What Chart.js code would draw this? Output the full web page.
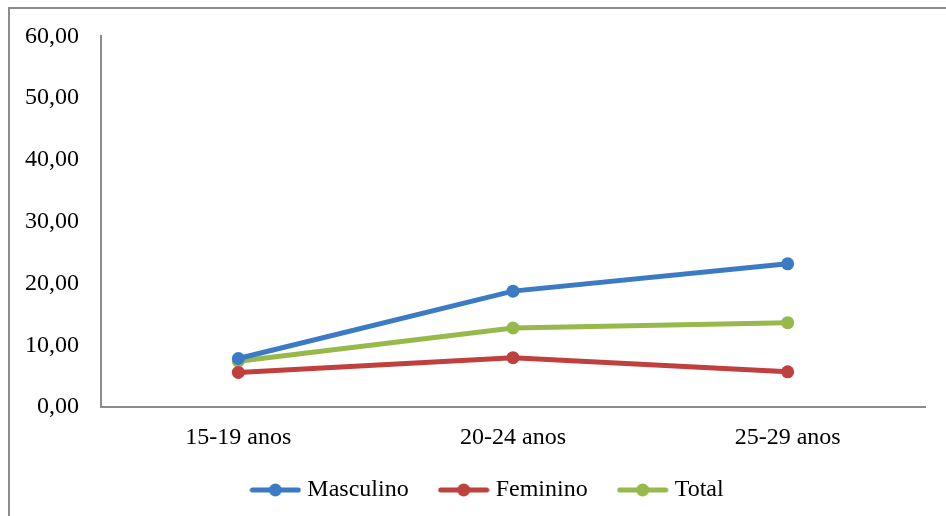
<!DOCTYPE html>
<html>
<head>
<meta charset="utf-8">
<script src="https://cdn.jsdelivr.net/npm/chart.js@4"></script>
<style>
    html, body { margin: 0; padding: 0; background: #fff; overflow: hidden; width: 946px; height: 516px; }
    .borda { position: absolute; background: #8c8c8c; }
    #bordaTopo { left: 8px; top: 7px; width: 938px; height: 2px; }
    #bordaEsq { left: 8px; top: 7px; width: 2px; height: 509px; }
    #wrap { position: absolute; left: 0; top: 0; width: 946px; height: 516px; }
</style>
</head>
<body>
<div class="borda" id="bordaTopo"></div>
<div class="borda" id="bordaEsq"></div>
<div id="wrap"><canvas id="faixaEtariaChart"></canvas></div>
<script>
const categorias = ['15-19 anos', '20-24 anos', '25-29 anos'];
const masculino = [7.85, 18.76, 23.18];
const feminino = [5.60, 7.98, 5.69];
const total = [7.42, 12.79, 13.66];
const yTicks = [0, 10, 20, 30, 40, 50, 60];

const azul = '#3b7bc3';
const vermelho = '#c0403d';
const verde = '#97b94c';

// icone da legenda: linha com bolinha no meio
function legendaIcone(cor) {
    const c = document.createElement('canvas');
    c.width = 52;
    c.height = 14;
    const g = c.getContext('2d');
    g.strokeStyle = cor;
    g.lineWidth = 5;
    g.lineCap = 'round';
    g.beginPath();
    g.moveTo(3, 7);
    g.lineTo(49, 7);
    g.stroke();
    g.fillStyle = cor;
    g.beginPath();
    g.arc(26, 7, 6.5, 0, Math.PI * 2);
    g.fill();
    return c;
}

function serie(label, data, cor) {
    return {
        label: label,
        data: data,
        borderColor: cor,
        backgroundColor: cor,
        pointBackgroundColor: cor,
        pointBorderColor: cor,
        borderWidth: 5,
        pointRadius: 6.5,
        pointBorderWidth: 0,
        pointStyle: 'circle',
        tension: 0,
        fill: false
    };
}

// ajusta a posicao da legenda (mais para a direita e um pouco acima)
const moverLegenda = {
    id: 'moverLegenda',
    afterLayout: function (chart) {
        const leg = chart.legend;
        if (leg) {
            leg.left += 27;
            leg.right += 27;
            leg.top -= 9;
            leg.bottom -= 9;
        }
    }
};

document.addEventListener('DOMContentLoaded', function () {
    const ctx = document.getElementById('faixaEtariaChart').getContext('2d');
    const fonte = { family: 'Liberation Serif', size: 24 };
    const icones = [legendaIcone(azul), legendaIcone(vermelho), legendaIcone(verde)];

    new Chart(ctx, {
        type: 'line',
        data: {
            labels: categorias,
            datasets: [
                serie('Masculino', masculino, azul),
                serie('Feminino', feminino, vermelho),
                serie('Total', total, verde)
            ]
        },
        plugins: [moverLegenda],
        options: {
            responsive: true,
            maintainAspectRatio: false,
            animation: false,
            layout: { padding: { left: 0, right: 21, top: 35, bottom: -5 } },
            plugins: {
                tooltip: { enabled: false },
                legend: {
                    position: 'bottom',
                    labels: {
                        color: '#000',
                        font: fonte,
                        usePointStyle: true,
                        pointStyleWidth: 40,
                        padding: 35,
                        generateLabels: function (chart) {
                            return chart.data.datasets.map(function (ds, i) {
                                return {
                                    text: ds.label,
                                    fillStyle: ds.borderColor,
                                    strokeStyle: ds.borderColor,
                                    fontColor: '#000',
                                    lineWidth: 0,
                                    pointStyle: icones[i],
                                    hidden: false,
                                    datasetIndex: i
                                };
                            });
                        }
                    }
                }
            },
            scales: {
                x: {
                    offset: true,
                    grid: { display: false, drawTicks: false },
                    border: { display: true, color: '#8c8c8c', width: 2 },
                    ticks: { color: '#000', font: fonte, padding: 16 },
                    afterFit: function (scale) { scale.height = 45; }
                },
                y: {
                    min: 0,
                    max: 60,
                    grid: { display: false, drawTicks: false },
                    border: { display: true, color: '#8c8c8c', width: 2 },
                    afterBuildTicks: function (scale) {
                        scale.ticks = yTicks.map(function (v) { return { value: v }; });
                    },
                    ticks: {
                        color: '#000',
                        font: fonte,
                        padding: 22,
                        callback: function (v) { return Number(v).toFixed(2).replace('.', ','); }
                    },
                    afterFit: function (scale) { scale.width = 101; }
                }
            }
        }
    });
});
</script>
</body>
</html>
